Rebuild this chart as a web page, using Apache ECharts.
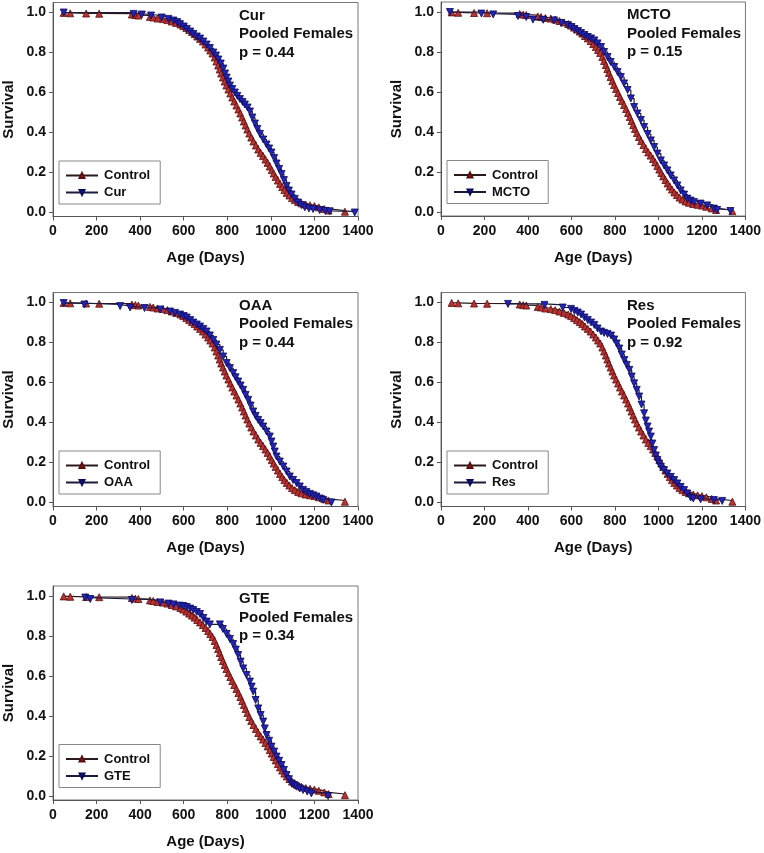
<!DOCTYPE html>
<html>
<head>
<meta charset="utf-8">
<script src="https://cdn.jsdelivr.net/npm/echarts@6/dist/echarts.min.js"></script>
<style>
html,body{margin:0;padding:0;background:#fff;}
#c{width:764px;height:853px;}
</style>
</head>
<body>
<div id="c"></div>
<script>
// ---------- DATA ----------
const treatNames = ['Cur', 'MCTO', 'OAA', 'Res', 'GTE'];
const pValues = ['0.44', '0.15', '0.44', '0.92', '0.34'];
const xTicks = [0, 200, 400, 600, 800, 1000, 1200, 1400];
const yTicks = [0, 0.2, 0.4, 0.6, 0.8, 1.0];

const ctrlAge = [49,79,152,212,362,378,392,445,460,480,505,525,545,565,585,598,612,625,638,650,662,675,688,700,712,722,732,742,750,758,765,772,780,788,796,805,814,823,832,842,851,860,868,876,884,892,901,910,920,931,942,953,964,975,985,995,1004,1013,1022,1032,1042,1052,1062,1073,1085,1097,1110,1125,1140,1160,1180,1200,1220,1245,1265,1340];
const ctrlSurv = [0.998,0.996,0.995,0.994,0.99,0.987,0.985,0.978,0.975,0.97,0.967,0.962,0.955,0.948,0.94,0.932,0.922,0.912,0.902,0.892,0.88,0.868,0.855,0.84,0.825,0.81,0.795,0.775,0.755,0.735,0.715,0.695,0.675,0.655,0.635,0.615,0.595,0.575,0.555,0.535,0.515,0.495,0.475,0.455,0.435,0.415,0.395,0.375,0.355,0.335,0.315,0.298,0.282,0.265,0.248,0.23,0.212,0.195,0.178,0.16,0.143,0.127,0.112,0.098,0.085,0.072,0.062,0.053,0.046,0.04,0.036,0.032,0.026,0.018,0.01,0.004];

const curAge = [49,370,408,450,499,530,553,570,583,600,614,630,644,660,675,690,705,720,736,748,759,770,782,790,797,805,812,823,835,846,858,870,881,893,904,915,927,938,950,965,980,992,1003,1015,1026,1038,1049,1060,1072,1083,1095,1110,1125,1140,1156,1175,1194,1224,1250,1270,1385];
const curSurv = [1.0,0.993,0.99,0.985,0.975,0.968,0.96,0.952,0.942,0.93,0.918,0.905,0.892,0.88,0.87,0.855,0.84,0.822,0.8,0.785,0.765,0.745,0.72,0.695,0.675,0.655,0.635,0.617,0.6,0.583,0.567,0.553,0.54,0.525,0.505,0.475,0.445,0.418,0.393,0.365,0.34,0.32,0.3,0.272,0.245,0.218,0.192,0.162,0.133,0.11,0.09,0.068,0.05,0.037,0.026,0.02,0.017,0.012,0.008,0.006,0.0];

const mctoAge = [41,186,240,354,392,423,470,520,553,583,600,614,630,644,660,675,690,705,720,736,750,766,780,797,812,827,842,858,873,888,903,919,934,950,965,980,995,1011,1026,1041,1056,1072,1087,1102,1118,1133,1148,1163,1194,1224,1255,1270,1331];
const mctoSurv = [1.0,0.992,0.988,0.98,0.975,0.962,0.961,0.958,0.945,0.935,0.925,0.915,0.905,0.895,0.885,0.875,0.868,0.858,0.843,0.825,0.8,0.775,0.75,0.725,0.7,0.675,0.643,0.61,0.568,0.525,0.493,0.46,0.425,0.39,0.358,0.325,0.292,0.258,0.233,0.208,0.183,0.158,0.133,0.108,0.087,0.067,0.057,0.05,0.042,0.033,0.017,0.01,0.005];

const oaaAge = [49,144,308,354,420,492,537,560,583,600,614,630,644,660,675,690,705,720,736,750,766,781,797,812,827,838,850,861,873,884,896,907,919,930,942,953,965,980,995,1003,1011,1018,1026,1041,1057,1072,1087,1102,1118,1133,1148,1163,1179,1194,1209,1225,1240,1278];
const oaaSurv = [0.997,0.99,0.982,0.975,0.972,0.965,0.955,0.948,0.94,0.932,0.925,0.912,0.9,0.89,0.88,0.868,0.855,0.835,0.813,0.79,0.763,0.73,0.697,0.672,0.647,0.626,0.605,0.585,0.563,0.538,0.513,0.485,0.455,0.433,0.413,0.397,0.38,0.355,0.33,0.305,0.28,0.255,0.23,0.205,0.18,0.155,0.13,0.113,0.097,0.08,0.063,0.053,0.043,0.036,0.03,0.02,0.013,0.0];

const resAge = [308,476,560,598,614,629,644,660,675,690,705,720,736,750,766,782,797,808,820,831,843,854,866,877,888,900,911,922,934,942,950,957,965,972,980,988,995,1003,1011,1026,1041,1057,1072,1087,1102,1118,1133,1148,1160,1194,1255,1293];
const resSurv = [0.993,0.988,0.975,0.968,0.958,0.95,0.94,0.925,0.912,0.9,0.888,0.87,0.855,0.848,0.843,0.835,0.815,0.795,0.77,0.74,0.712,0.688,0.663,0.63,0.596,0.563,0.53,0.49,0.446,0.41,0.38,0.355,0.33,0.295,0.262,0.235,0.212,0.195,0.179,0.162,0.145,0.128,0.112,0.095,0.078,0.062,0.045,0.025,0.02,0.016,0.012,0.008];

const gteAge = [148,171,362,492,530,553,580,598,614,630,644,660,675,690,705,720,766,780,797,812,827,839,850,861,873,888,904,912,919,930,942,953,965,972,980,992,1003,1015,1026,1038,1049,1060,1072,1083,1095,1106,1118,1133,1148,1167,1186,1263];
const gteSurv = [0.992,0.985,0.98,0.968,0.962,0.958,0.952,0.95,0.945,0.937,0.93,0.92,0.91,0.89,0.872,0.858,0.858,0.835,0.81,0.785,0.76,0.732,0.705,0.672,0.638,0.605,0.572,0.547,0.522,0.48,0.438,0.405,0.372,0.338,0.305,0.276,0.247,0.222,0.197,0.176,0.155,0.13,0.105,0.084,0.063,0.055,0.047,0.038,0.03,0.022,0.013,0.0];

const treatAges = [curAge, mctoAge, oaaAge, resAge, gteAge];
const treatSurvs = [curSurv, mctoSurv, oaaSurv, resSurv, gteSurv];

// ---------- LAYOUT ----------
const FONT = '"Liberation Sans", Arial, Helvetica, sans-serif';
const panels = [
  {left: 53,  top: 2.5,   width: 305},
  {left: 441, top: 2,     width: 306},
  {left: 53,  top: 292.5, width: 305},
  {left: 441, top: 292.5, width: 306},
  {left: 53,  top: 586,   width: 305}
];
const GH = 214;
const YMIN = -0.02, YMAX = 1.05;

function zip(a, b) {
  const n = Math.min(a.length, b.length);
  const out = [];
  for (let i = 0; i < n; i++) out.push([a[i], b[i]]);
  return out;
}

const grid = [], xAxis = [], yAxis = [], series = [], legend = [], graphic = [];
const axisLineStyle = {color: '#555', width: 1};

panels.forEach((p, i) => {
  grid.push({left: p.left, top: p.top, width: p.width, height: GH,
    show: true, borderColor: '#777', borderWidth: 1, backgroundColor: 'transparent'});
  xAxis.push({
    type: 'value', gridIndex: i, min: xTicks[0], max: xTicks[xTicks.length - 1], interval: 200,
    name: 'Age (Days)', nameLocation: 'middle', nameGap: 34,
    nameTextStyle: {fontFamily: FONT, fontWeight: 'bold', fontSize: 15, color: '#111'},
    axisLine: {show: true, onZero: false, lineStyle: axisLineStyle},
    axisTick: {show: true, inside: false, length: 4, lineStyle: axisLineStyle},
    axisLabel: {fontFamily: FONT, fontWeight: 'bold', fontSize: 14, color: '#111', margin: 8,
      formatter: v => String(v)},
    splitLine: {show: false}
  });
  yAxis.push({
    type: 'value', gridIndex: i, min: YMIN, max: YMAX,
    name: 'Survival', nameLocation: 'middle', nameGap: 37, nameRotate: 90,
    nameTextStyle: {fontFamily: FONT, fontWeight: 'bold', fontSize: 15, color: '#111'},
    axisLine: {show: true, onZero: false, lineStyle: axisLineStyle},
    axisTick: {show: true, inside: false, length: 4, lineStyle: axisLineStyle, customValues: yTicks},
    axisLabel: {fontFamily: FONT, fontWeight: 'bold', fontSize: 14, color: '#111', margin: 7,
      customValues: yTicks, formatter: v => Number(v).toFixed(1)},
    splitLine: {show: false}
  });
  series.push({
    name: 'Control', type: 'line', xAxisIndex: i, yAxisIndex: i, step: 'end',
    data: zip(ctrlAge, ctrlSurv),
    symbol: 'triangle', symbolSize: 7, showAllSymbol: true,
    lineStyle: {color: '#2a1a1a', width: 1.2},
    itemStyle: {color: '#b83232', borderColor: '#5a0c0c', borderWidth: 0.8},
    animation: false, z: 3
  });
  series.push({
    name: treatNames[i], type: 'line', xAxisIndex: i, yAxisIndex: i, step: 'end',
    data: zip(treatAges[i], treatSurvs[i]),
    symbol: 'triangle', symbolRotate: 180, symbolSize: 7, showAllSymbol: true,
    lineStyle: {color: '#1a1a3a', width: 1.2},
    itemStyle: {color: '#2424b4', borderColor: '#0a0a5a', borderWidth: 0.8},
    animation: false, z: 4
  });
  legend.push({
    data: ['Control', treatNames[i]], orient: 'vertical',
    left: p.left + 6, top: p.top + 158.5,
    itemWidth: 32, itemHeight: 6, itemGap: 4,
    padding: [8, 10, 5, 6],
    backgroundColor: '#fff', borderColor: '#888', borderWidth: 1, borderRadius: 0,
    selectedMode: false,
    textStyle: {fontFamily: FONT, fontWeight: 'bold', fontSize: 13, lineHeight: 13, color: '#111', padding: [0, 0, 0, 1]}
  });
  const tx = p.left + 186, ty = p.top + 13;
  [treatNames[i], 'Pooled Females', 'p = ' + pValues[i]].forEach((t, k) => {
    graphic.push({type: 'text', left: tx, top: ty + k * 18.5 - 7.5, z: 10,
      style: {text: t, font: 'bold 15px ' + FONT, fill: '#111'}});
  });
});

const chart = echarts.init(document.getElementById('c'), null, {renderer: 'canvas'});
chart.setOption({
  animation: false,
  backgroundColor: '#fff',
  grid, xAxis, yAxis, series, legend, graphic
});
</script>
</body>
</html>
